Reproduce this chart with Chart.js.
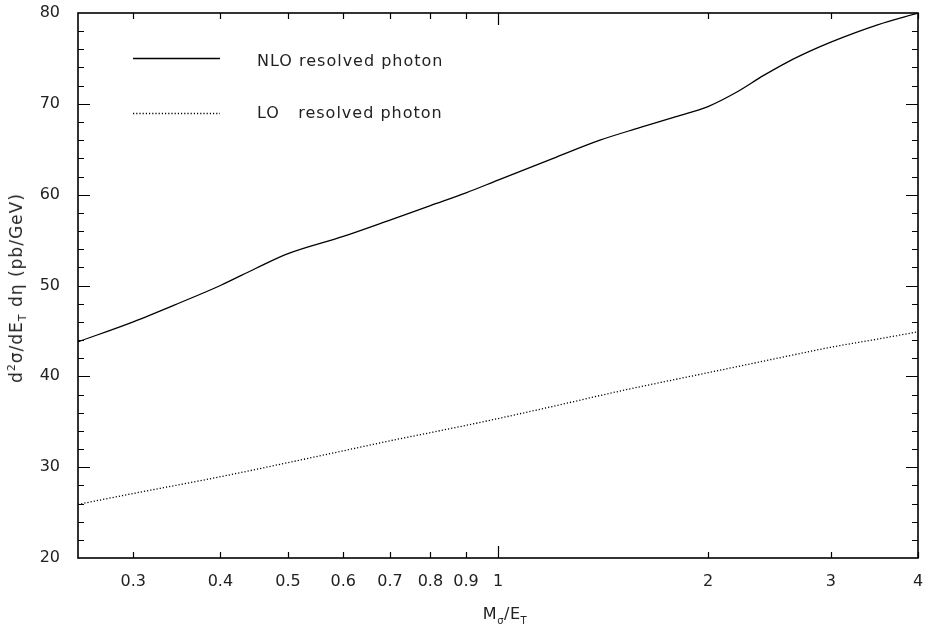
<!DOCTYPE html>
<html>
<head>
<meta charset="utf-8">
<script src="https://cdn.jsdelivr.net/npm/chart.js@4/dist/chart.umd.min.js"></script>
<style>
  body { margin: 0; background: #fff; }
  #wrap { position: relative; width: 927px; height: 631px; }
  .axis-title { position: absolute; font-family: "DejaVu Sans", sans-serif; font-size: 16px; color: #222; white-space: nowrap; }
  .axis-title sub, .axis-title sup { font-size: 10px; }
  #xTitle { left: 505px; top: 615px; transform: translate(-50%, -50%); letter-spacing: 0.5px; }
  #yTitle { left: 17px; top: 288px; transform: translate(-50%, -50%) rotate(-90deg); font-size: 17px; letter-spacing: 1px; }
  #yTitle sub, #yTitle sup { font-size: 11px; }
</style>
</head>
<body>
<div id="wrap">
  <canvas id="chart" width="927" height="631"></canvas>
  <div class="axis-title" id="xTitle">M<sub>σ</sub>/E<sub>T</sub></div>
  <div class="axis-title" id="yTitle">d<sup>2</sup>σ/dE<sub>T</sub> dη (pb/GeV)</div>
</div>
<script>
"use strict";

/* ---- data ---- */
const nloX = [0.25, 0.3, 0.35, 0.4, 0.45, 0.5, 0.6, 0.7, 0.8, 0.9, 1.0, 1.2, 1.4, 1.6, 1.8, 2.0, 2.2, 2.4, 2.6, 2.8, 3.0, 3.5, 4.0];
const nloY = [43.8, 46.0, 48.1, 50.0, 51.9, 53.5, 55.4, 57.2, 58.8, 60.2, 61.6, 64.0, 66.0, 67.4, 68.6, 69.7, 71.3, 73.1, 74.6, 75.8, 76.8, 78.7, 80.0];

const loX = [0.25, 0.3, 0.4, 0.5, 0.6, 0.7, 0.8, 0.9, 1.0, 1.2, 1.5, 2.0, 2.5, 3.0, 3.5, 4.0];
const loY = [25.9, 27.1, 28.95, 30.5, 31.8, 32.9, 33.8, 34.6, 35.35, 36.7, 38.4, 40.4, 41.95, 43.2, 44.1, 44.9];

const xTickValues = [0.3, 0.4, 0.5, 0.6, 0.7, 0.8, 0.9, 1, 2, 3, 4];
const yTickValues = [20, 30, 40, 50, 60, 70, 80];

const FONT = "'DejaVu Sans', sans-serif";
const INK  = "#000";

/* ---- frame with inward ticks on all four sides ---- */
const frameTicks = {
  id: "frameTicks",
  afterDatasetsDraw(chart) {
    const { ctx, chartArea: a, scales: { x, y } } = chart;
    ctx.save();
    ctx.strokeStyle = INK;
    ctx.lineWidth = 1.2;
    ctx.beginPath();
    for (let v = 22; v < 80; v += 2) {
      const p = Math.round(y.getPixelForValue(v)) + 0.5;
      const len = v % 10 === 0 ? 12 : 6;
      ctx.moveTo(a.left, p);  ctx.lineTo(a.left + len, p);
      ctx.moveTo(a.right, p); ctx.lineTo(a.right - len, p);
    }
    xTickValues.forEach(v => {
      const p = Math.round(x.getPixelForValue(v)) + 0.5;
      const len = v === 1 ? 12 : 6;
      ctx.moveTo(p, a.bottom); ctx.lineTo(p, a.bottom - len);
      ctx.moveTo(p, a.top);    ctx.lineTo(p, a.top + len);
    });
    ctx.stroke();
    ctx.lineWidth = 1.6;
    ctx.strokeRect(a.left, a.top, a.right - a.left, a.bottom - a.top);
    ctx.restore();
  },
};

/* ---- legend: line sample + label, top left inside the frame ---- */
const insetLegend = {
  id: "insetLegend",
  afterDatasetsDraw(chart) {
    const { ctx } = chart;
    const rows = [{ y: 58, ty: 62 }, { y: 113, ty: 114 }];
    ctx.save();
    chart.data.datasets.forEach((ds, i) => {
      const r = rows[i];
      ctx.strokeStyle = ds.borderColor;
      ctx.lineWidth = ds.borderWidth;
      ctx.setLineDash(ds.borderDash || []);
      ctx.beginPath();
      ctx.moveTo(133, r.y + 0.5);
      ctx.lineTo(220, r.y + 0.5);
      ctx.stroke();
      ctx.setLineDash([]);
      ctx.fillStyle = "#222";
      ctx.font = "16px " + FONT;
      ctx.letterSpacing = "1px";
      ctx.textBaseline = "middle";
      ctx.fillText(ds.label, 257, r.ty);
    });
    ctx.restore();
  },
};

new Chart(document.getElementById("chart"), {
  type: "line",
  data: {
    datasets: [
      {
        label: "NLO resolved photon",
        data: nloX.map((v, i) => ({ x: v, y: nloY[i] })),
        borderColor: INK,
        borderWidth: 1.3,
        pointRadius: 0,
        cubicInterpolationMode: "monotone",
      },
      {
        label: "LO   resolved photon",
        data: loX.map((v, i) => ({ x: v, y: loY[i] })),
        borderColor: INK,
        borderWidth: 1.3,
        borderDash: [1.2, 2],
        pointRadius: 0,
        cubicInterpolationMode: "monotone",
      },
    ],
  },
  options: {
    responsive: false,
    animation: false,
    layout: { padding: { top: 13, right: 9, left: 0, bottom: 0 } },
    plugins: { legend: { display: false }, tooltip: { enabled: false } },
    scales: {
      x: {
        type: "logarithmic",
        min: 0.25,
        max: 4,
        grid: { display: false, drawTicks: false },
        border: { display: false },
        afterBuildTicks: s => { s.ticks = xTickValues.map(v => ({ value: v })); },
        afterFit: s => { s.height = 73; s.paddingLeft = 0; s.paddingRight = 0; },
        ticks: {
          autoSkip: false,
          maxRotation: 0,
          padding: 14,
          color: "#222",
          font: { family: FONT, size: 16 },
          callback: v => String(v),
        },
      },
      y: {
        min: 20,
        max: 80,
        grid: { display: false, drawTicks: false },
        border: { display: false },
        afterBuildTicks: s => { s.ticks = yTickValues.map(v => ({ value: v })); },
        afterFit: s => { s.width = 78; s.paddingTop = 0; s.paddingBottom = 0; },
        ticks: {
          padding: 18,
          color: "#222",
          font: { family: FONT, size: 16 },
        },
      },
    },
  },
  plugins: [frameTicks, insetLegend],
});
</script>
</body>
</html>
